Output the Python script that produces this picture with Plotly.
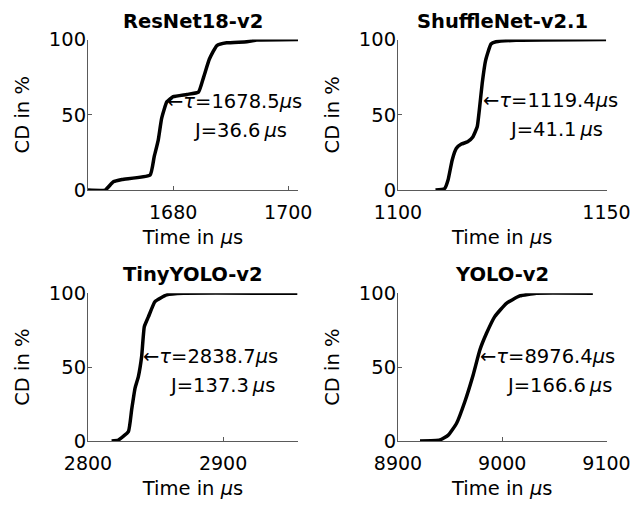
import plotly.graph_objects as go

# ---- data ----
titles = ["ResNet18-v2", "ShuffleNet-v2.1", "TinyYOLO-v2", "YOLO-v2"]

resnet_t = [1665.2, 1668.2, 1669.6, 1671.1, 1676.0, 1676.7, 1677.4, 1678.0, 1678.9, 1680.0,
            1682.4, 1684.4, 1685.3, 1686.3, 1687.6, 1689.3, 1692.8, 1694.5, 1701.7]
resnet_cd = [0, 0, 5.5, 7, 10, 22, 33, 47.6, 58.6, 62, 63.5, 65, 75, 87, 96, 97.8, 98.5, 99.6, 100]

shuffle_t = [1109.0, 1111.2, 1112.0, 1113.0, 1114.0, 1115.2, 1116.7, 1117.9, 1119.0, 1119.5,
             1120.2, 1121.0, 1122.3, 1123.5, 1128.3, 1149.9]
shuffle_cd = [0, 1, 6.6, 20, 27.7, 30.5, 32, 35, 42, 53, 71, 86, 97, 98.5, 99.5, 100]

tiny_t = [2817.5, 2822.5, 2829.9, 2832.3, 2834.8, 2837.3, 2839.7, 2841.7, 2844.7, 2849.6,
          2858.3, 2870.6, 2955.0]
tiny_cd = [0, 0.7, 6.3, 21, 35.7, 43.6, 57, 77.4, 84, 94.4, 98.9, 100, 100]

yolo_t = [8921.1, 8940.2, 8948.2, 8956.2, 8964.1, 8972.1, 8978.5, 8984.9, 8992.8, 9004.0,
          9016.7, 9032.7, 9086.9]
yolo_cd = [0, 0.7, 4, 12, 26.6, 44.7, 61.6, 72.9, 84.2, 93.2, 98.2, 100, 100]

tau = [1678.5, 1119.4, 2838.7, 8976.4]
jitter = [36.6, 41.1, 137.3, 166.6]
tip_x = [1678.9, 1120.3, 2841.0, 8978.5]
tip_y = [58.6, 59.8, 57.5, 57.5]

x_ranges = [[1665.2, 1701.7], [1100, 1150], [2800, 2955.5], [8900, 9100]]
x_ticks = [[1680, 1700], [1100, 1150], [2800, 2900], [8900, 9000, 9100]]
y_ticks = [0, 50, 100]

series_t = [resnet_t, shuffle_t, tiny_t, yolo_t]
series_cd = [resnet_cd, shuffle_cd, tiny_cd, yolo_cd]

# ---- layout geometry (paper fractions) ----
W, H = 631, 509
x_doms = [[88 / W, 298 / W], [398 / W, 606.5 / W], [88 / W, 298 / W], [398 / W, 606.5 / W]]
y_doms = [[1 - 190 / H, 1 - 39.5 / H], [1 - 190 / H, 1 - 39.5 / H],
          [1 - 441 / H, 1 - 293.3 / H], [1 - 441 / H, 1 - 293.3 / H]]

FONT = "DejaVu Sans, sans-serif"
FS = 19.5
XTICK_FS = 19
AX_COLOR = "#5a5a5a"

fig = go.Figure()
annotations = []
layout = {}

for i in range(4):
    xa = "x" if i == 0 else f"x{i+1}"
    ya = "y" if i == 0 else f"y{i+1}"
    fig.add_trace(go.Scatter(x=series_t[i], y=series_cd[i], mode="lines",
                             line=dict(color="black", width=3.5, shape="spline", smoothing=0.4),
                             xaxis=xa, yaxis=ya, showlegend=False, hoverinfo="skip"))
    xkey = "xaxis" if i == 0 else f"xaxis{i+1}"
    ykey = "yaxis" if i == 0 else f"yaxis{i+1}"
    layout[xkey] = dict(domain=x_doms[i], range=x_ranges[i], tickvals=x_ticks[i],
                        ticks="inside", ticklen=4, tickcolor=AX_COLOR, showline=True,
                        linecolor=AX_COLOR, linewidth=1, showgrid=False, zeroline=False,
                        anchor=ya, automargin=False, ticklabeloverflow="allow",
                        ticklabelstandoff=5,
                        tickfont=dict(family=FONT, size=XTICK_FS, color="black"),
                        title=dict(text="Time in <i>μ</i>s", standoff=8,
                                   font=dict(family=FONT, size=FS, color="black")))
    layout[ykey] = dict(domain=y_doms[i], range=[0, 100], tickvals=y_ticks,
                        ticks="inside", ticklen=4, tickcolor=AX_COLOR, showline=True,
                        linecolor=AX_COLOR, linewidth=1, showgrid=False, zeroline=False,
                        anchor=xa, automargin=False, ticklabeloverflow="allow",
                        ticklabelstandoff=-3,
                        tickfont=dict(family=FONT, size=FS, color="black"),
                        title=dict(text="CD in %", standoff=14,
                                   font=dict(family=FONT, size=FS, color="black")))
    # subplot title
    annotations.append(dict(text=f"<b>{titles[i]}</b>", xref="paper", yref="paper",
                            x=(x_doms[i][0] + x_doms[i][1]) / 2, y=y_doms[i][1],
                            xanchor="center", yanchor="bottom", yshift=5, showarrow=False,
                            font=dict(family=FONT, size=FS, color="black")))
    # tau / jitter labels
    annotations.append(dict(text=f"←<i>τ</i>={tau[i]:.1f}<i>μ</i>s", xref=xa, yref=ya,
                            x=tip_x[i], y=tip_y[i], xanchor="left", yanchor="middle",
                            xshift=-2,
                            showarrow=False, font=dict(family=FONT, size=FS, color="black")))
    annotations.append(dict(text=f"J={jitter[i]:.1f}\u2009<i>μ</i>s", xref=xa, yref=ya,
                            x=tip_x[i], y=tip_y[i], xanchor="left", yanchor="middle",
                            xshift=24, yshift=-29,
                            showarrow=False, font=dict(family=FONT, size=FS, color="black")))

fig.update_layout(width=W, height=H, margin=dict(l=0, r=0, t=0, b=0),
                  paper_bgcolor="white", plot_bgcolor="white",
                  annotations=annotations, **layout)

fig.write_html("out.html", config={"displayModeBar": False},
               post_script="document.body.style.margin='0';document.body.style.overflow='hidden';")
